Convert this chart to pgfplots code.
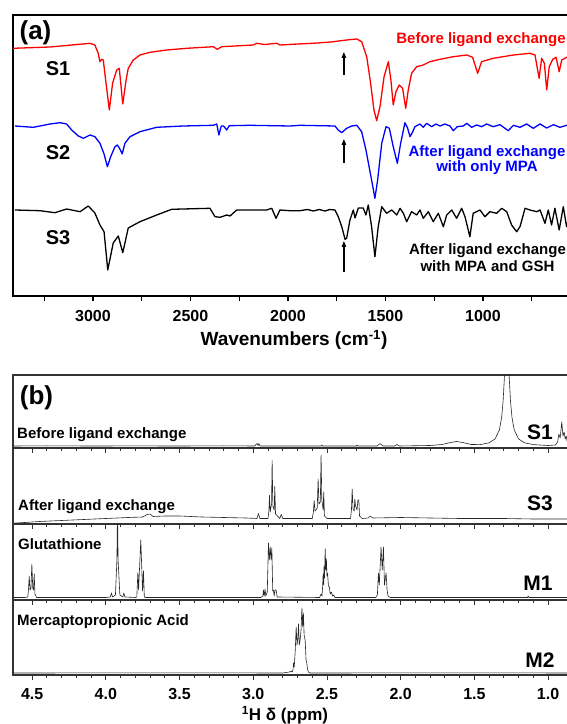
\documentclass[border=0pt]{standalone}
\usepackage{pgfplots}
\pgfplotsset{compat=1.18}
\usepackage{fontspec}
\setmainfont{Liberation Sans}
\usetikzlibrary{arrows.meta}
\definecolor{ftred}{RGB}{255,0,0}
\definecolor{ftblue}{RGB}{0,0,255}
\begin{document}
\begin{tikzpicture}[x=1pt,y=1pt]
\pgfplotsset{
  nmr/.style={
    scale only axis, width=557.2pt,
    xmin=0.85, xmax=4.63, x dir=reverse, ymin=0,
    axis line style={line width=1.3pt, black!80},
    xtick={1,1.5,2,2.5,3,3.5,4,4.5}, minor x tick num=4,
    ytick=\empty, xtick pos=left, tick align=outside,
    major tick length=5pt, minor tick length=3pt,
    tick style={line width=0.9pt, black!80},
    clip=true,
  },
  nmrline/.style={black!85, line width=0.6pt, no markers, line join=round},
}
% ---------------- panel (a) ----------------
\begin{axis}[
  at={(13pt,428pt)}, anchor=south west,
  scale only axis, width=557.7pt, height=281pt,
  xmin=550, xmax=3410, ymin=0, ymax=281,
  x dir=reverse,
  axis line style={line width=1.8pt},
  xtick={1000,1500,2000,2500,3000},
  minor xtick={750,1250,1750,2250,2750,3250},
  ytick=\empty,
  xtick pos=left, tick align=outside,
  major tick length=5pt, minor tick length=5pt,
  tick style={line width=1.3pt, black},
  xticklabel style={font=\fontsize{16}{16}\selectfont\bfseries, yshift=-6pt},
  /pgf/number format/assume math mode=true,
  /pgf/number format/1000 sep={},
]
\addplot[ftred, line width=1.3pt, no markers, line join=round] coordinates {
(3410,247.7)(3220,249)(3015,252.7)(2990,251)(2973,242.7)(2964,234.3)(2955,236.7)(2947,236)
(2933,213)(2916,186)(2899,213)(2878,226)(2865,227.7)(2847,192)(2830,216)(2819,227.7)
(2793,236)(2759,241)(2707,243.7)(2622,246)(2519,247.7)(2383,249.3)(2362,246.7)(2340,249.3)
(2178,251)(2160,252.7)(2120,251.5)(2058,252.7)(2041,251)(1950,252)(1870,252.7)(1780,254)(1699,256)(1647,257)
(1622,254.3)(1596,239.3)(1576,212.7)(1559,186)(1545,175.3)(1528,189.3)(1507,219.3)(1485,234.3)
(1472,216)(1460,191)(1446,204.3)(1429,211)(1412,207.7)(1396,187.7)(1383,206)(1366,222.7)
(1340,229.3)(1306,231)(1272,234.3)(1220,236.7)(1152,239.3)(1083,241)(1053,238.7)(1027,222.7)
(1007,234.3)(947,237.7)(844,241)(759,242.7)(733,241)(712,217.7)(699,237.7)(685,232.7)
(673,206)(660,229.3)(642,236.7)(625,238.7)(609,224.3)(596,236)(571,238.7)(550,238)
};
\addplot[ftblue, line width=1.3pt, no markers, line join=round] coordinates {
(3400,170)(3306,168.7)(3220,172)(3169,173.3)(3135,172)(3109,166)(3075,160)(3049,157.7)
(3015,161)(2990,159.3)(2964,152.7)(2943,142)(2926,129.3)(2909,139.3)(2887,149.3)(2875,151)
(2861,146.7)(2850,142)(2836,152.7)(2810,159.3)(2759,164.3)(2673,168.7)(2537,170)(2383,170.7)
(2365,172)(2354,161)(2342,170)(2330,170)(2314,166)(2301,170.3)(2195,170.7)(1990,170)
(1938,170.7)(1759,170)(1742,166)(1724,163.3)(1699,167.7)(1673,170)(1647,170.7)(1622,164.3)
(1600,146)(1571,116)(1554,97.7)(1540,116)(1519,152.7)(1497,169.3)(1480,167.7)(1460,149.3)
(1439,132.7)(1422,152.7)(1400,173.3)(1386,167.7)(1374,159.3)(1360,164.3)(1349,169.3)(1323,172)
(1306,168.7)(1289,172.7)(1263,169.3)(1241,172)(1220,170)(1195,172)(1169,170)(1152,165.3)
(1132,169.3)(1101,170)(1083,172.7)(1058,168.7)(1032,171)(1007,169.3)(981,172)(947,169.3)
(913,171.3)(870,165.3)(844,170.7)(810,168.7)(776,172)(742,167.7)(707,172)(673,168)
(639,171.3)(605,168.7)(571,170.7)(550,170)
};
\addplot[black, line width=1.3pt, no markers, line join=round] coordinates {
(3400,86)(3272,85.3)(3195,83.3)(3135,87)(3066,84.3)(3024,90)(2990,83)(2964,71)
(2943,64.3)(2924,26)(2896,53)(2870,60)(2847,43.3)(2819,68)(2759,74.3)(2673,81)
(2596,86.7)(2400,87.7)(2374,79.3)(2348,78.7)(2314,81)(2297,80)(2263,86)(2109,86)
(2083,87.7)(2061,77.7)(2041,86)(1990,85.3)(1938,85.3)(1900,86.5)(1870,85)(1840,86.5)(1810,85)(1785,86.5)
(1759,86)(1742,79.3)(1724,69.3)(1707,56.7)(1699,57.7)(1682,76)(1665,86)(1656,78)
(1639,88)(1614,88)(1600,81)(1588,91)(1571,69.3)(1554,39.3)(1537,69.3)(1519,89.3)
(1494,82.7)(1468,86)(1442,81)(1425,87.7)(1408,82.7)(1391,74.3)(1366,84.3)(1340,81)
(1323,86)(1306,77.7)(1280,84.3)(1255,74.3)(1229,82.7)(1203,69.3)(1186,81)(1160,86)
(1135,77.7)(1109,87.7)(1092,79.3)(1067,59.3)(1050,82.7)(1015,86)(990,79.3)(964,84.3)
(930,82.7)(904,87.7)(878,84.3)(853,71)(827,64.3)(810,69.3)(784,87.7)(759,86)
(724,84.3)(707,86)(682,72.7)(665,86)(648,71)(631,87.7)(609,66)(588,89.3)(571,69.3)(550,85)
};
\draw[line width=1.2pt, -{Triangle[length=6pt,width=4.5pt]}] (axis cs:1713,221) -- (axis cs:1713,244);
\draw[line width=1.2pt, -{Triangle[length=6pt,width=4.5pt]}] (axis cs:1713,133) -- (axis cs:1713,157);
\draw[line width=1.2pt, -{Triangle[length=6pt,width=4.5pt]}] (axis cs:1713,24) -- (axis cs:1713,55);
\end{axis}
% ---------------- panel (b) ----------------
\begin{axis}[nmr, at={(13pt,276pt)}, anchor=south west, height=73pt, ymax=73, xticklabels=\empty]
\addplot[nmrline] coordinates {
(4.63,2)(4.40,2.2)(4.10,2)(3.80,2.1)(3.50,2)(3.20,2.2)(2.99,2)(2.975,4.5)(2.968,2.5)(2.962,4.5)(2.955,2)
(2.80,2)(2.54,2)(2.535,3)(2.53,2)(2.30,2)(2.297,3)(2.29,2)(2.16,2)(2.139,4.5)(2.12,2)(2.04,2)(2.026,3.5)(2.01,2)
(1.80,2.5)(1.72,3.5)(1.66,5.5)(1.62,6.5)(1.58,5.5)(1.52,3.5)(1.46,3.4)(1.40,5.2)(1.36,9.0)(1.33,18.2)
(1.315,30.7)(1.305,47)(1.295,74.4)(1.288,97.8)(1.280,112)(1.272,97.8)(1.265,74.4)(1.255,47)(1.245,30.7)
(1.23,18.2)(1.20,9.0)(1.16,5.2)(1.10,3.4)(1.00,2.5)(0.95,3)(0.935,6)(0.927,14)(0.918,10)(0.907,26)
(0.899,12)(0.891,16)(0.884,9)(0.877,12)(0.87,6)(0.85,5)
};
\end{axis}
\begin{axis}[nmr, at={(13pt,200pt)}, anchor=south west, height=76pt, ymax=76, xticklabels=\empty]
\addplot[nmrline] coordinates {
(4.63,0.8)(4.55,1.5)(4.45,2.5)(4.30,3.5)(4.15,4.5)(4.00,5.5)(3.85,6.5)(3.75,7.0)(3.72,9.5)(3.70,10)
(3.68,7.5)(3.60,8)(3.50,8)(3.35,7)(3.20,6.5)(3.05,6)(2.975,5.5)(2.965,10.5)(2.955,5.5)(2.90,5.5)
(2.894,13)(2.890,28.5)(2.885,12)(2.876,20)(2.872,63.5)(2.867,18)(2.858,14)(2.854,37.5)(2.849,10)
(2.82,5.5)(2.810,9.5)(2.80,5.5)(2.60,5.5)(2.592,12)(2.587,23.5)(2.581,13)(2.566,16)(2.560,45)
(2.554,20)(2.545,22)(2.540,69)(2.535,24)(2.526,14)(2.522,32)(2.517,8)(2.50,5.5)(2.34,5.5)
(2.334,14)(2.329,35)(2.323,15)(2.315,13)(2.311,25)(2.306,18)(2.296,14)(2.290,24)(2.284,24)
(2.279,8)(2.26,5.5)(2.22,6)(2.207,8)(2.19,6)(2.0,6.5)(1.8,6)(1.6,5.5)(1.3,5.5)(1.1,5)(0.85,5)
};
\end{axis}
\begin{axis}[nmr, at={(13pt,124pt)}, anchor=south west, height=76pt, ymax=76, xticklabels=\empty]
\addplot[nmrline] coordinates {
(4.63,2.5)(4.55,2.5)(4.53,3)(4.525,10)(4.520,23.5)(4.514,10)(4.508,12)(4.502,36)(4.496,12)
(4.491,10)(4.486,26)(4.481,6)(4.47,2.5)(4.00,2.5)(3.970,3)(3.962,7)(3.955,3)(3.935,5)(3.925,40)
(3.921,90)(3.917,40)(3.905,5)(3.885,3)(3.878,7)(3.87,3)(3.80,2.5)(3.79,3)(3.783,27.5)(3.778,10)
(3.763,60)(3.751,9)(3.745,29)(3.739,3)(3.73,2.5)(2.95,2.5)(2.935,4)(2.931,10)(2.926,4)(2.920,11)
(2.915,4)(2.905,8)(2.897,57)(2.891,40)(2.885,53)(2.879,40)(2.874,52)(2.868,9)(2.863,10)(2.858,4)
(2.853,10)(2.845,10)(2.838,3)(2.55,2.5)(2.540,6)(2.534,4)(2.530,12)(2.526,26)(2.522,15)(2.520,33)
(2.517,22)(2.512,51)(2.508,30)(2.504,41)(2.500,24)(2.496,27)(2.490,14)(2.484,13)(2.478,6)(2.470,8)
(2.462,4)(2.455,5)(2.445,2.5)(2.17,2.5)(2.158,5)(2.151,27)(2.145,15)(2.133,53)(2.125,30)(2.117,53)
(2.110,15)(2.099,27)(2.092,10)(2.086,4)(2.07,2.5)(1.14,2.5)(1.135,4)(1.13,2.5)(0.85,2.5)
};
\end{axis}
\begin{axis}[nmr, at={(13pt,49pt)}, anchor=south west, height=75pt, ymax=75,
  xticklabel style={font=\fontsize{16}{16}\selectfont\bfseries, yshift=-5pt},
  /pgf/number format/assume math mode=true,
  /pgf/number format/fixed, /pgf/number format/fixed zerofill, /pgf/number format/precision=1]
\addplot[nmrline] coordinates {
(4.63,2)(3.5,2.2)(2.80,2)(2.755,3)(2.745,4)(2.735,3)(2.730,6)(2.727,12)(2.722,8)(2.715,25)(2.709,48)
(2.703,30)(2.698,36)(2.693,51)(2.688,30)(2.682,35)(2.676,45)(2.670,67)(2.665,48)(2.660,62)
(2.655,40)(2.648,35)(2.642,15)(2.637,12)(2.632,6)(2.626,3)(2.615,2)(1.5,2.2)(0.85,2)
};
\end{axis}
% ---------------- text ----------------
\node[font=\fontsize{26}{26}\selectfont\bfseries] at (35.5,691.5) {(a)};
\node[font=\fontsize{20}{20}\selectfont\bfseries] at (58,655) {S1};
\node[font=\fontsize{20}{20}\selectfont\bfseries] at (58,571) {S2};
\node[font=\fontsize{20}{20}\selectfont\bfseries] at (58,486) {S3};
\node[font=\fontsize{15}{15}\selectfont\bfseries, text=ftred] at (481,684) {Before ligand exchange};
\node[font=\fontsize{15}{15}\selectfont\bfseries, text=ftblue, align=center] at (487,563.5) {After ligand exchange\\with only MPA};
\node[font=\fontsize{15}{16.7}\selectfont\bfseries, align=center] at (487.5,466.5) {After ligand exchange\\with MPA and GSH};
\node[font=\fontsize{19}{19}\selectfont\bfseries] at (294,384) {Wavenumbers (cm\textsuperscript{-1})};
\node[font=\fontsize{26}{26}\selectfont\bfseries] at (36.5,326.5) {(b)};
\node[font=\fontsize{15}{15}\selectfont\bfseries, anchor=west, inner sep=0pt] at (17,289) {Before ligand exchange};
\node[font=\fontsize{15}{15}\selectfont\bfseries, anchor=west, inner sep=0pt] at (18,217) {After ligand exchange};
\node[font=\fontsize{15}{15}\selectfont\bfseries, anchor=west, inner sep=0pt] at (18,180) {Glutathione};
\node[font=\fontsize{15}{15}\selectfont\bfseries, anchor=west, inner sep=0pt] at (17,102) {Mercaptopropionic Acid};
\node[font=\fontsize{21}{21}\selectfont\bfseries] at (540,292) {S1};
\node[font=\fontsize{21}{21}\selectfont\bfseries] at (540,221) {S3};
\node[font=\fontsize{21}{21}\selectfont\bfseries] at (538,141) {M1};
\node[font=\fontsize{21}{21}\selectfont\bfseries] at (540,64) {M2};
\node[font=\fontsize{17}{17}\selectfont\bfseries] at (285,8.5) {\textsuperscript{1}H δ (ppm)};
\pgfresetboundingbox
\useasboundingbox (0,0) rectangle (567,724);
\end{tikzpicture}
\end{document}
